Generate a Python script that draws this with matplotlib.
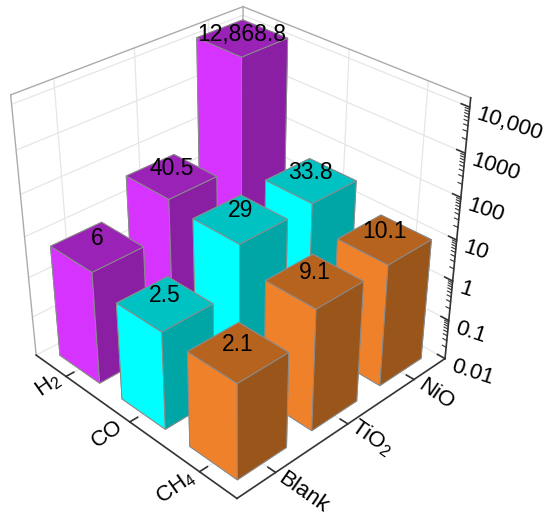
import numpy as np
import matplotlib
matplotlib.use("Agg")
import matplotlib.pyplot as plt
from mpl_toolkits.mplot3d import proj3d

plt.rcParams['font.family'] = ['Liberation Sans', 'DejaVu Sans']
plt.rcParams['mathtext.default'] = 'regular'

gases = ['H$_2$', 'CO', 'CH$_4$']
catalysts = ['Blank', 'TiO$_2$', 'NiO']
h2_values = [6, 40.5, 12868.8]
co_values = [2.5, 29, 33.8]
ch4_values = [2.1, 9.1, 10.1]
value_labels = [['6', '40.5', '12,868.8'], ['2.5', '29', '33.8'], ['2.1', '9.1', '10.1']]
z_exponents = [-2, -1, 0, 1, 2, 3, 4]
z_labels = ['0.01', '0.1', '1', '10', '100', '1000', '10,000']

row_colors = [('#D633FF', '#8A1FA3', '#9A22B6'),
              ('#00FFFF', '#00A6A6', '#00C2C2'),
              ('#F0812B', '#99551A', '#B5631F')]

XMIN, XMAX, YMIN, YMAX, ZMIN, ZMAX = -0.5, 2.5, -0.5, 2.5, -2, 4.2
W = 0.65

fig = plt.figure(figsize=(5.5, 5.2), dpi=100)
ax = fig.add_axes([-0.076, 0.036, 1.0, 1.0], projection='3d')
ax.computed_zorder = False
ax.set_proj_type('persp', focal_length=0.49)
ax.view_init(elev=32, azim=-44.2)
ax.set_xlim(XMIN, XMAX, view_margin=0)
ax.set_ylim(YMIN, YMAX, view_margin=0)
ax.set_zlim(ZMIN, ZMAX, view_margin=0)
ax.set_box_aspect((1, 1, 1.0), zoom=0.99)
ax.set_axis_off()


def label(x, y, z, text, dx, dy, size, rot=0, ha='center'):
    px, py, _ = proj3d.proj_transform(x, y, z, ax.get_proj())
    ax.annotate(text, xy=(px, py), xycoords='data', xytext=(dx, dy),
                textcoords='offset pixels', fontsize=size, rotation=rot,
                rotation_mode='anchor', ha=ha, va='center', color='black',
                zorder=50, annotation_clip=False)


grid = dict(color='#E6E6E6', lw=0.9, zorder=1)
frame = dict(color='#ABABAB', lw=1.0, zorder=2)
axis = dict(color='#333333', lw=1.2, zorder=3)

for k in range(3):
    ax.plot([XMIN, XMIN], [k, k], [ZMIN, ZMAX], **grid)
    ax.plot([k, k], [YMAX, YMAX], [ZMIN, ZMAX], **grid)
    ax.plot([k, k], [YMIN, YMAX], [ZMIN, ZMIN], **grid)
    ax.plot([XMIN, XMAX], [k, k], [ZMIN, ZMIN], **grid)
for e in z_exponents:
    ax.plot([XMIN, XMIN], [YMIN, YMAX], [e, e], **grid)
    ax.plot([XMIN, XMAX], [YMAX, YMAX], [e, e], **grid)

ax.plot([XMIN, XMIN], [YMIN, YMIN], [ZMIN, ZMAX], **frame)
ax.plot([XMIN, XMIN], [YMAX, YMAX], [ZMIN, ZMAX], **frame)
ax.plot([XMIN, XMIN], [YMIN, YMAX], [ZMAX, ZMAX], **frame)
ax.plot([XMIN, XMAX], [YMAX, YMAX], [ZMAX, ZMAX], **frame)
ax.plot([XMIN, XMAX], [YMIN, YMIN], [ZMIN, ZMIN], **axis)
ax.plot([XMAX, XMAX], [YMIN, YMAX], [ZMIN, ZMIN], **axis)
ax.plot([XMAX, XMAX], [YMAX, YMAX], [ZMIN, ZMAX], **axis)

for k in range(3):
    ax.plot([k, k], [YMIN, YMIN + 0.1], [ZMIN, ZMIN], **axis)
    ax.plot([XMAX - 0.1, XMAX], [k, k], [ZMIN, ZMIN], **axis)
for e in z_exponents:
    ax.plot([XMAX - 0.1, XMAX], [YMAX, YMAX], [e, e], **axis)
    if e < 4:
        for m in range(2, 10):
            v = e + np.log10(m)
            ax.plot([XMAX - 0.05, XMAX], [YMAX, YMAX], [v, v], color='#333333', lw=0.8, zorder=3)

rows = [h2_values, co_values, ch4_values]
order = sorted(((i, j) for i in range(3) for j in range(3)), key=lambda t: t[0] - t[1])
for n, (i, j) in enumerate(order):
    front, side, top = row_colors[i]
    h = np.log10(rows[i][j]) - ZMIN
    ax.bar3d(i - W / 2, j - W / 2, ZMIN, W, W, h,
             color=[side, top, front, front, side, side],
             shade=False, edgecolor='#8C8C8C', linewidth=0.7, zorder=10 + n)

for i in range(3):
    for j in range(3):
        lift = 3 if rows[i][j] > 1000 else 8
        label(i, j, np.log10(rows[i][j]), value_labels[i][j], 0, lift, 16.5)

for k, lab, off in zip(range(3), gases, [(-18, -9), (-22, -12), (-24, -16)]):
    label(k, YMIN, ZMIN, lab, off[0], off[1], 16, rot=35)
for k, lab, off in zip(range(3), catalysts, [(28, -20), (24, -14), (22, -15)]):
    label(XMAX, k, ZMIN, lab, off[0], off[1], 16, rot=-35)
for e, lab in zip(z_exponents, z_labels):
    label(XMAX, YMAX, e, lab, 7, -7, 16, rot=-18, ha='left')

fig.savefig('out.png', dpi=100, facecolor='white')
